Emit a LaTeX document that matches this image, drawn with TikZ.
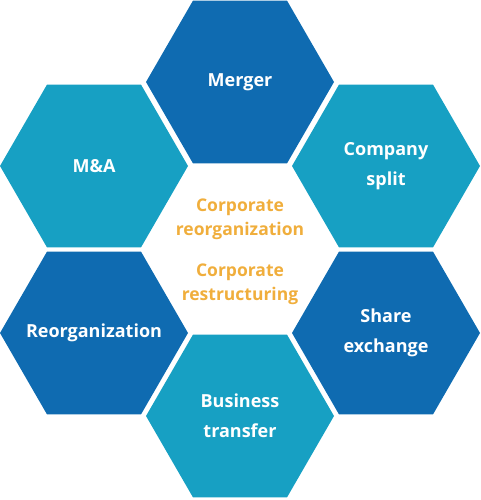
\documentclass[tikz,border=0pt]{standalone}
\usepackage{fontspec}
\setmainfont{Open Sans}
\usetikzlibrary{shapes.geometric, positioning}
\definecolor{hexblue}{HTML}{0F6BB1}
\definecolor{hexteal}{HTML}{17A0C3}
\definecolor{hexorange}{HTML}{F0AE3C}

\begin{document}
\begin{tikzpicture}[
        x=1pt, y=-1pt,
        hexbase/.style={regular polygon, regular polygon sides=6, minimum size=188pt, inner sep=0pt},
        hexdark/.style={hexbase, fill=hexblue},
        hexlight/.style={hexbase, fill=hexteal},
        hexlabel/.style={text=white, align=center, inner sep=0pt, font=\fontsize{18}{30}\selectfont\bfseries},
        centertext/.style={text=hexorange, align=center, inner sep=0pt, font=\fontsize{17.5}{24}\selectfont\bfseries}
    ]
    \useasboundingbox (0,0) rectangle (480,500);

    % Hexagons
    \node[hexdark, label={[hexlabel]center:Merger}] (merger) at (240,82) {};
    \node[hexlight, label={[hexlabel]center:M\&A}] (ma) at (94,166) {};
    \node[hexlight, label={[hexlabel]center:Company\\split}] (split) at (386,166) {};
    \node[hexdark, label={[hexlabel]center:Reorganization}] (reorg) at (94,333) {};
    \node[hexdark, label={[hexlabel]center:Share\\exchange}] (share) at (386,333) {};
    \node[hexlight, label={[hexlabel]center:Business\\transfer}] (transfer) at (240,416) {};

    % Centre labels
    \node[centertext] (reorgtext) at (240,219) {Corporate\\reorganization};
    \node[centertext, below=24pt of reorgtext] (restructtext) {Corporate\\restructuring};

\end{tikzpicture}
\end{document}
